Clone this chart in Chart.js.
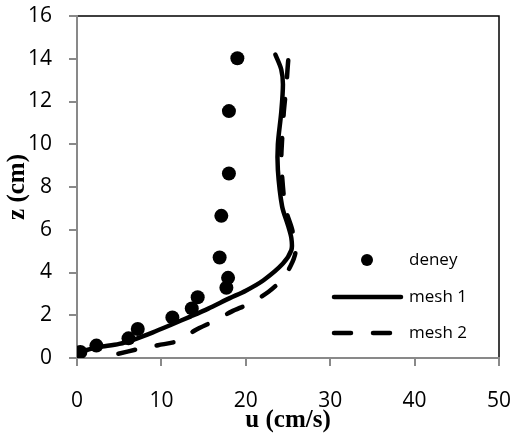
<!DOCTYPE html>
<html lang="tr">
<head>
  <meta charset="UTF-8">
  <title>Hız profili</title>
  <script src="https://cdn.jsdelivr.net/npm/chart.js"></script>
  <style>
    body { margin: 0; background: #fff; }
    canvas { display: block; }
  </style>
</head>
<body>
  <canvas id="profil" width="513" height="436"></canvas>

  <script>
    // deney (measured) points: u in cm/s, z in cm
    const deneyU = [0.4, 2.3, 6.1, 7.2, 11.3, 13.6, 14.3, 17.7, 17.9, 16.9, 17.1, 18.0, 18.0, 19.0];
    const deneyZ = [0.28, 0.58, 0.92, 1.36, 1.9, 2.32, 2.84, 3.29, 3.75, 4.7, 6.65, 8.63, 11.55, 14.02];

    // mesh 1 (solid)
    const mesh1U = [0.4, 2.5, 5.0, 7.0, 9.0, 11.3, 13.5, 15.5, 18.1, 20.0, 22.1, 24.4, 25.4, 25.4, 25.0, 24.3, 23.8, 23.8, 24.2, 24.4, 24.2, 23.5];
    const mesh1Z = [0.3, 0.5, 0.66, 0.9, 1.2, 1.58, 1.95, 2.3, 2.8, 3.15, 3.64, 4.42, 5.05, 5.6, 6.2, 7.1, 8.8, 10.0, 11.5, 12.8, 13.5, 14.2];

    // mesh 2 (dashed)
    const mesh2U = [4.9, 7.3, 9.6, 12.0, 14.0, 16.2, 18.3, 20.5, 22.7, 24.1, 25.3, 25.9, 25.5, 24.7, 24.3, 24.2, 24.3, 24.5, 24.8, 25.0, 25.2];
    const mesh2Z = [0.2, 0.42, 0.6, 0.8, 1.3, 1.72, 2.17, 2.56, 3.1, 3.6, 4.3, 5.0, 6.0, 7.0, 8.5, 9.3, 10.2, 11.5, 12.7, 13.8, 14.6];

    const seriesNames = ['deney', 'mesh 1', 'mesh 2'];

    const pairs = (xs, ys) => xs.map((x, i) => ({ x: x, y: ys[i] }));
    const axisGray = '#898989';
    const tickFont = { family: 'Open Sans', size: 21 };
    const titleFont = { family: 'Liberation Serif', size: 25, weight: 'bold' };

    // black frame on top/right, axes drawn in gray over it
    const frame = {
      id: 'frame',
      beforeDraw(chart) {
        const { ctx, chartArea: a } = chart;
        ctx.save();
        ctx.strokeStyle = '#000';
        ctx.lineWidth = 1.5;
        ctx.strokeRect(a.left, a.top, a.right - a.left, a.bottom - a.top);
        ctx.restore();
      }
    };

    // legend inside the plot area, right side
    const insideLegend = {
      id: 'insideLegend',
      afterDraw(chart) {
        const ctx = chart.ctx;
        const rows = [260, 297, 333];
        const x0 = 332, x1 = 403, tx = 409;
        ctx.save();
        ctx.font = '17px "Open Sans"';
        ctx.textBaseline = 'middle';
        ctx.fillStyle = '#000';
        chart.data.datasets.forEach((ds, i) => {
          const y = rows[i];
          if (!ds.showLine) {
            ctx.beginPath();
            ctx.arc((x0 + x1) / 2 - 0.5, y, 6, 0, Math.PI * 2);
            ctx.fill();
          } else {
            ctx.beginPath();
            ctx.strokeStyle = ds.borderColor;
            ctx.lineWidth = ds.borderWidth;
            ctx.lineCap = 'round';
            ctx.setLineDash(ds.borderDash || []);
            ctx.moveTo(x0 + 2, y);
            ctx.lineTo(x1 - 2, y);
            ctx.stroke();
            ctx.setLineDash([]);
          }
          ctx.fillText(ds.label, tx, y);
        });
        ctx.restore();
      }
    };

    new Chart(document.getElementById('profil'), {
      type: 'scatter',
      data: {
        datasets: [
          {
            label: seriesNames[0],
            data: pairs(deneyU, deneyZ),
            showLine: false,
            pointRadius: 7,
            pointBackgroundColor: '#000',
            pointBorderColor: '#000',
            pointBorderWidth: 0
          },
          {
            label: seriesNames[1],
            data: pairs(mesh1U, mesh1Z),
            showLine: true,
            borderColor: '#000',
            borderWidth: 4.5,
            borderCapStyle: 'round',
            pointRadius: 0,
            tension: 0.3
          },
          {
            label: seriesNames[2],
            data: pairs(mesh2U, mesh2Z),
            showLine: true,
            borderColor: '#000',
            borderWidth: 4.5,
            borderDash: [17, 22],
            borderCapStyle: 'round',
            pointRadius: 0,
            tension: 0.3
          }
        ]
      },
      options: {
        responsive: false,
        animation: false,
        layout: { padding: { left: 0, right: 14, top: 16, bottom: 0 } },
        plugins: {
          legend: { display: false },
          tooltip: { enabled: false }
        },
        scales: {
          x: {
            min: 0, max: 50,
            afterFit: (s) => { s.height = 78; s.paddingLeft = 0; s.paddingRight = 0; },
            ticks: { stepSize: 10, color: '#000', font: tickFont, padding: 22, maxRotation: 0 },
            grid: { drawOnChartArea: false, drawTicks: true, tickLength: 8, color: axisGray, lineWidth: 2 },
            border: { color: axisGray, width: 2 },
            title: { display: true, text: 'u (cm/s)', color: '#000', font: titleFont, padding: { top: 0, bottom: 0 } }
          },
          y: {
            min: 0, max: 16,
            afterFit: (s) => { s.width = 77; s.paddingTop = 0; s.paddingBottom = 0; },
            ticks: { stepSize: 2, color: '#000', font: tickFont, padding: 17 },
            grid: { drawOnChartArea: false, drawTicks: true, tickLength: 8, color: axisGray, lineWidth: 2 },
            border: { color: axisGray, width: 2 },
            title: { display: true, text: 'z (cm)', color: '#000', font: titleFont, padding: { top: 3, bottom: 0 } }
          }
        }
      },
      plugins: [frame, insideLegend]
    });
  </script>
</body>
</html>
